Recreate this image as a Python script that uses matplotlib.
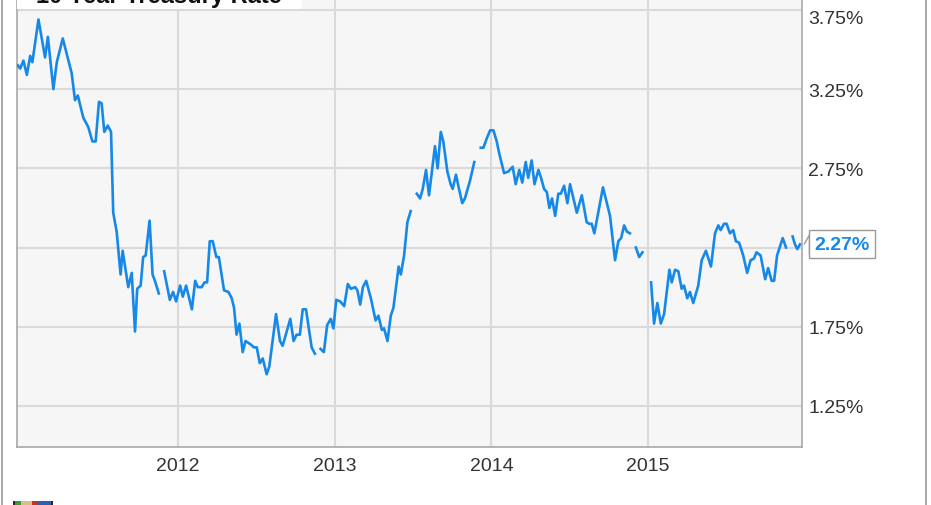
"""10 Year Treasury Rate, 2011-2015, YCharts style"""
import matplotlib
matplotlib.use('Agg')
import matplotlib.pyplot as plt
from matplotlib.patches import Rectangle
from matplotlib.lines import Line2D
from matplotlib.transforms import offset_copy
import numpy as np

nan = np.nan

# decimal year of each weekly reading (nan = missing data, line breaks)
t_year = [
    2010.978, 2010.993, 2011.014, 2011.036, 2011.057, 2011.071, 2011.110, 2011.152,
    2011.170, 2011.205, 2011.227, 2011.265, 2011.322, 2011.343, 2011.361, 2011.396,
    2011.428, 2011.454, 2011.475, 2011.496, 2011.513, 2011.530, 2011.552, 2011.573,
    2011.587, 2011.609, 2011.634, 2011.647, 2011.683, 2011.705, 2011.726, 2011.740,
    2011.762, 2011.778, 2011.794, 2011.819, 2011.838, 2011.853, 2011.878, nan,
    2011.912, 2011.948, 2011.969, 2011.988, 2012.014, 2012.031, 2012.052, 2012.089,
    2012.110, 2012.127, 2012.152, 2012.169, 2012.186, 2012.203, 2012.222, 2012.245,
    2012.261, 2012.294, 2012.322, 2012.343, 2012.358, 2012.374, 2012.392, 2012.413,
    2012.431, 2012.462, 2012.485, 2012.503, 2012.522, 2012.541, 2012.566, 2012.583,
    2012.626, 2012.651, 2012.668, 2012.717, 2012.738, 2012.757, 2012.778, 2012.796,
    2012.817, 2012.853, 2012.874, nan,
    2012.910, 2012.931, 2012.952, 2012.975, 2012.992, 2013.010, 2013.035, 2013.061,
    2013.084, 2013.103, 2013.131, 2013.145, 2013.163, 2013.180, 2013.201, 2013.231,
    2013.261, 2013.279, 2013.301, 2013.315, 2013.337, 2013.358, 2013.375, 2013.408,
    2013.422, 2013.443, 2013.464, 2013.485, nan,
    2013.524, 2013.545, 2013.562, 2013.583, 2013.602, 2013.640, 2013.657, 2013.677,
    2013.693, 2013.719, 2013.740, 2013.753, 2013.774, 2013.789, 2013.814, 2013.831,
    2013.863, 2013.891, nan,
    2013.932, 2013.949, 2013.971, 2013.992, 2014.013, 2014.034, 2014.051, 2014.081,
    2014.108, 2014.136, 2014.155, 2014.178, 2014.197, 2014.219, 2014.235, 2014.257,
    2014.275, 2014.300, 2014.317, 2014.336, 2014.354, 2014.370, 2014.387, 2014.407,
    2014.427, 2014.443, 2014.464, 2014.485, 2014.502, 2014.545, 2014.577, 2014.608,
    2014.625, 2014.640, 2014.657, 2014.712, 2014.757, 2014.789, 2014.810, 2014.828,
    2014.847, 2014.865, 2014.884, nan,
    2014.922, 2014.943, 2014.964, nan,
    2015.019, 2015.038, 2015.059, 2015.081, 2015.102, 2015.136, 2015.151, 2015.172,
    2015.193, 2015.214, 2015.229, 2015.250, 2015.267, 2015.288, 2015.320, 2015.342,
    2015.369, 2015.401, 2015.427, 2015.448, 2015.463, 2015.484, 2015.501, 2015.522,
    2015.543, 2015.560, 2015.581, 2015.607, 2015.632, 2015.654, 2015.675, 2015.692,
    2015.718, 2015.747, 2015.766, 2015.788, 2015.804, 2015.823, 2015.859, 2015.880, nan,
    2015.922, 2015.937, 2015.952, 2015.969,
]

# yield in percent
rate = [
    3.40, 3.38, 3.43, 3.34, 3.46, 3.42, 3.69, 3.45,
    3.58, 3.25, 3.42, 3.57, 3.35, 3.18, 3.21, 3.07,
    3.01, 2.92, 2.92, 3.17, 3.16, 2.98, 3.02, 2.98,
    2.47, 2.35, 2.08, 2.23, 2.00, 2.09, 1.72, 1.99,
    2.01, 2.19, 2.20, 2.42, 2.08, 2.04, 1.96, nan,
    2.10, 1.92, 1.97, 1.91, 2.01, 1.94, 2.01, 1.86,
    2.04, 2.00, 2.00, 2.03, 2.03, 2.29, 2.29, 2.19,
    2.19, 1.98, 1.97, 1.93, 1.87, 1.70, 1.77, 1.59,
    1.66, 1.64, 1.62, 1.62, 1.52, 1.55, 1.45, 1.50,
    1.83, 1.66, 1.63, 1.80, 1.66, 1.70, 1.70, 1.86,
    1.86, 1.62, 1.58, nan,
    1.61, 1.59, 1.76, 1.80, 1.74, 1.92, 1.91, 1.88,
    2.02, 1.99, 2.00, 1.98, 1.89, 2.00, 2.04, 1.93,
    1.79, 1.82, 1.73, 1.74, 1.66, 1.82, 1.87, 2.13,
    2.08, 2.20, 2.41, 2.48, nan,
    2.59, 2.56, 2.62, 2.74, 2.58, 2.89, 2.75, 2.98,
    2.92, 2.73, 2.65, 2.62, 2.71, 2.64, 2.53, 2.56,
    2.67, 2.79, nan,
    2.88, 2.88, 2.94, 2.99, 2.99, 2.92, 2.84, 2.72,
    2.73, 2.76, 2.65, 2.74, 2.66, 2.79, 2.69, 2.80,
    2.65, 2.74, 2.69, 2.62, 2.60, 2.50, 2.56, 2.45,
    2.59, 2.59, 2.64, 2.53, 2.65, 2.47, 2.58, 2.41,
    2.40, 2.40, 2.34, 2.63, 2.45, 2.17, 2.29, 2.31,
    2.39, 2.35, 2.34, nan,
    2.25, 2.19, 2.22, nan,
    2.03, 1.77, 1.90, 1.77, 1.83, 2.11, 2.03, 2.11,
    2.10, 1.99, 2.01, 1.93, 1.97, 1.90, 2.01, 2.17,
    2.23, 2.13, 2.34, 2.39, 2.36, 2.40, 2.40, 2.34,
    2.36, 2.29, 2.28, 2.20, 2.09, 2.17, 2.18, 2.22,
    2.20, 2.05, 2.12, 2.04, 2.04, 2.20, 2.31, 2.25, nan,
    2.32, 2.27, 2.24, 2.27,
]

year_ticks = [2012, 2013, 2014, 2015]
rate_ticks = [1.25, 1.75, 2.25, 2.75, 3.25, 3.75]
rate_labels = ['1.25%', '1.75%', '', '2.75%', '3.25%', '']
title = '10 Year Treasury Rate'
last_label = '2.27%'

blue = '#1689e8'
grid_c = '#dadada'
frame_c = '#a8a8a8'
text_c = '#333333'
fs = 14

plt.rcParams['font.family'] = ['Liberation Sans', 'DejaVu Sans']

W, H = 931, 506
fig = plt.figure(figsize=(W / 100, H / 100), dpi=100, facecolor='w')

# plot box: x 17..802 px, y 0..448 px from top
ax = fig.add_axes([17 / W, (H - 448) / H, (802 - 17) / W, 448 / H])
ax.set_facecolor('#f6f6f6')
ax.plot(t_year, rate, color=blue, lw=1.9, solid_joinstyle='round', zorder=3)

ax.set_xlim(2010.973, 2015.982)
ax.set_ylim(0.991, 3.819)

ax.set_xticks(year_ticks)
ax.set_xticklabels([str(y) for y in year_ticks])
ax.set_yticks(rate_ticks)
ax.set_yticklabels(rate_labels)
ax.yaxis.tick_right()
ax.tick_params(axis='both', length=0, labelsize=fs, labelcolor=text_c)
ax.tick_params(axis='x', pad=7.5)
ax.tick_params(axis='y', pad=4.5)
ax.grid(True, color=grid_c, lw=1.5)
ax.set_axisbelow(True)

for side in ['left', 'bottom', 'right']:
    ax.spines[side].set_color(frame_c)
    ax.spines[side].set_linewidth(1.2)
ax.spines['top'].set_visible(False)

# top label sits a bit below its gridline
ax.text(1.0, 3.75, '3.75%', fontsize=fs, color=text_c, ha='left', va='center',
        transform=offset_copy(ax.get_yaxis_transform(), fig=fig, x=6, y=-9, units='dots'),
        clip_on=False)

# last value flag
last_val = [v for v in rate if not np.isnan(v)][-1]
ax.plot([1.0], [last_val], marker=[(-5, 0), (0, 9), (0, -9)], ms=14,
        mfc='w', mec='#999999', mew=1.0, clip_on=False, zorder=4,
        transform=offset_copy(ax.get_yaxis_transform(), fig=fig, x=7, y=0, units='dots'))
ax.annotate(last_label, xy=(1.0, last_val), xycoords=ax.get_yaxis_transform(),
            xytext=(12, 0), textcoords='offset pixels', ha='left', va='center',
            fontsize=fs, fontweight='bold', color=blue, annotation_clip=False, zorder=5,
            bbox=dict(boxstyle='square,pad=0.28', fc='w', ec='#999999', lw=1.0))

# title box (cut off by the top of the image)
fig.add_artist(Rectangle((17 / W, (H - 10) / H), (302 - 17) / W, 12 / H,
                         transform=fig.transFigure, fc='w', ec='none', zorder=3))
fig.text(36 / W, (H - 3) / H, title, fontsize=17, fontweight='bold', color='#111111',
         ha='left', va='baseline', zorder=4)

# outer frame
for xp in [1.5, 926]:
    fig.add_artist(Line2D([xp / W, xp / W], [0, 1], transform=fig.transFigure,
                          color='#9a9a9a', lw=1.2))

# logo peeking in at bottom left
logo = [(13, 40, '#2a2a2a'), (15, 6, '#3a9a3a'), (21, 11, '#d9c08a'),
        (32, 6, '#c83030'), (38, 13, '#2d5fb0')]
for x0, w, c in logo:
    fig.add_artist(Rectangle((x0 / W, 0), w / W, 4.5 / H, transform=fig.transFigure,
                             fc=c, ec='none'))

fig.savefig('out.png', dpi=100, facecolor='w')
